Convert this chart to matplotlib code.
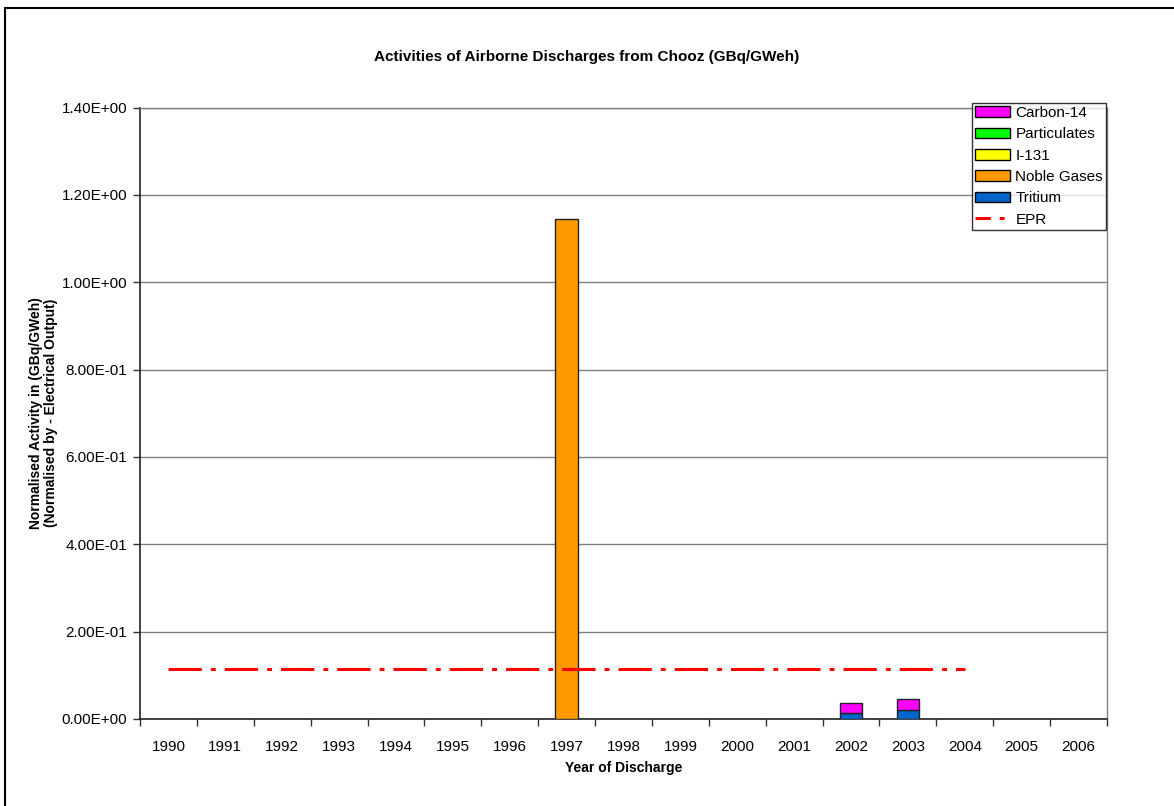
import numpy as np
import matplotlib
matplotlib.use("Agg")
import matplotlib.pyplot as plt
from matplotlib.patches import Rectangle
from matplotlib.lines import Line2D
from matplotlib.ticker import FuncFormatter, FixedLocator

plt.rcParams['font.family'] = ['Liberation Sans', 'DejaVu Sans']
plt.rcParams['lines.scale_dashes'] = False

years = ['1990', '1991', '1992', '1993', '1994', '1995', '1996', '1997', '1998',
         '1999', '2000', '2001', '2002', '2003', '2004', '2005', '2006']
tritium = [0, 0, 0, 0, 0, 0, 0, 0, 0, 0, 0, 0, 0.0144, 0.0206, 0, 0, 0]
noble_gases = [0, 0, 0, 0, 0, 0, 0, 1.144, 0, 0, 0, 0, 0, 0, 0, 0, 0]
i131 = [0] * 17
particulates = [0] * 17
carbon14 = [0, 0, 0, 0, 0, 0, 0, 0, 0, 0, 0, 0, 0.0226, 0.0245, 0, 0, 0]
epr = [0.114] * 15 + [np.nan, np.nan]

series = [
    ('Tritium', tritium, '#0066CC'),
    ('Noble Gases', noble_gases, '#FF9900'),
    ('I-131', i131, '#FFFF00'),
    ('Particulates', particulates, '#00FF00'),
    ('Carbon-14', carbon14, '#FF00FF'),
]

FS = 11
LFS = 10

fig = plt.figure(figsize=(11.74, 8.06), dpi=100)
# outer chart frame
fig.add_artist(Rectangle((5 / 1174, -0.05), 1.2, 1 - 8 / 806 + 0.05,
                         transform=fig.transFigure, fill=False,
                         edgecolor='black', linewidth=1.5))

ax = fig.add_axes([140 / 1174, 1 - 719 / 806, (1107 - 140) / 1174, (719 - 107.5) / 806])
x = np.arange(len(years))
bottom = np.zeros(len(years))
handles = {}
for name, vals, color in series:
    vals = np.asarray(vals, dtype=float)
    mask = vals > 0
    if mask.any():
        ax.bar(x[mask], vals[mask], width=0.4, bottom=bottom[mask], color=color,
               edgecolor='#222222', linewidth=1, zorder=3)
    bottom += vals
    handles[name] = Rectangle((0, 0), 1, 1, facecolor=color, edgecolor='black', linewidth=1)

epr_line, = ax.plot(x, epr, color='#FF0000', linewidth=2.2,
                    dashes=(24, 6.5, 3.5, 6.5), zorder=4)

ax.set_xlim(-0.5, len(years) - 0.5)
ax.set_ylim(0, 1.4)
ax.set_yticks(np.arange(0, 1.41, 0.2))
ax.yaxis.set_major_formatter(FuncFormatter(lambda v, p: format(v, '.2E')))
ax.yaxis.grid(True, color='#808080', linewidth=1)
ax.set_axisbelow(True)

ax.xaxis.set_major_locator(FixedLocator(np.arange(-0.5, len(years), 1.0)))
ax.xaxis.set_minor_locator(FixedLocator(x))
ax.set_xticklabels([])
ax.set_xticklabels(years, minor=True)
ax.tick_params(axis='x', which='major', length=5, width=1, color='#333333')
ax.tick_params(axis='x', which='minor', length=0, pad=15, labelsize=FS)
ax.tick_params(axis='y', length=5, width=1, color='#333333', labelsize=FS, pad=4)

for s in ['left', 'bottom']:
    ax.spines[s].set_color('#222222')
    ax.spines[s].set_linewidth(1.2)
for s in ['top', 'right']:
    ax.spines[s].set_color('#808080')
    ax.spines[s].set_linewidth(1)

ax.set_xlabel('Year of Discharge', fontsize=LFS, fontweight='bold', labelpad=5)
ax.set_ylabel('Normalised Activity in (GBq/GWeh)\n(Normalised by - Electrical Output)',
              fontsize=LFS, fontweight='bold', labelpad=3, linespacing=1.05)
fig.text(587 / 1174, 1 - 57 / 806, 'Activities of Airborne Discharges from Chooz (GBq/GWeh)',
         ha='center', va='center', fontsize=FS, fontweight='bold')

leg_handles = [handles['Carbon-14'], handles['Particulates'], handles['I-131'],
               handles['Noble Gases'], handles['Tritium'],
               Line2D([0], [0], color='#FF0000', linewidth=2.2, dashes=(11, 6.5, 3.5, 6.5))]
leg_labels = ['Carbon-14', 'Particulates', 'I-131', 'Noble Gases', 'Tritium', 'EPR']
leg = ax.legend(leg_handles, leg_labels, loc='upper right',
                bbox_to_anchor=(1106 / 1174, 1 - 103 / 806), bbox_transform=fig.transFigure,
                fontsize=FS, frameon=True, fancybox=False, borderpad=0.2,
                handlelength=2.3, handleheight=0.7, handletextpad=0.35, labelspacing=0.48,
                borderaxespad=0)
leg.get_frame().set_edgecolor('black')
leg.get_frame().set_linewidth(1)
leg.set_zorder(10)

fig.savefig('out.png', dpi=100)
